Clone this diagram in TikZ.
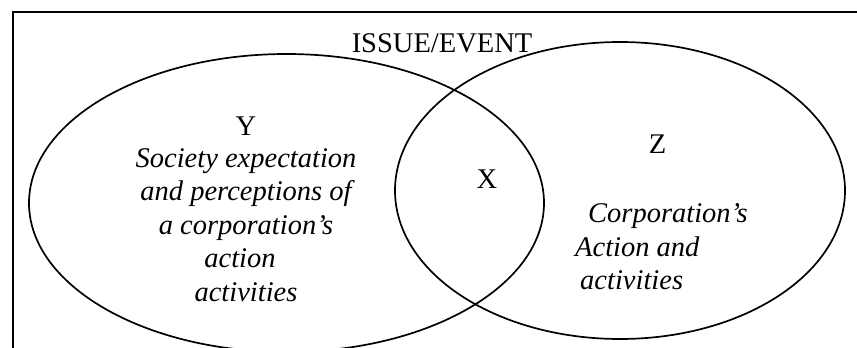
\documentclass[tikz,border=0pt]{standalone}
\usepackage{fontspec}
\setmainfont{Liberation Serif}
\begin{document}
\begin{tikzpicture}[x=1pt,y=-1pt,
  frameline/.style={line width=2pt},
  setline/.style={line width=1.7pt},
  lbl/.style={font=\fontsize{28.5}{34}\selectfont, inner sep=0pt, anchor=base},
  itl/.style={font=\fontsize{28.5}{34}\selectfont\itshape, inner sep=0pt, anchor=base},
  itlw/.style={itl, anchor=base west}]
\useasboundingbox (0,0) rectangle (857,348);
\begin{scope}
\clip (0,0) rectangle (857,348);
% frame
\draw[frameline] (13,349) -- (13,12) -- (858,12);
% sets
\draw[setline] (286.5,203) ellipse [x radius=257.5pt, y radius=149pt];
\draw[setline] (620,190.5) ellipse [x radius=225pt, y radius=148.5pt];
\end{scope}
% title
\node[lbl] (title) at (442,52) {ISSUE/EVENT};
% left set
\node[lbl] (y) at (246,135) {Y};
\node[itl] (y1) at (246,167) {Society expectation};
\node[itl] (y2) at (246,200.5) {and perceptions of};
\node[itl] (y3) at (246,234) {a corporation’s};
\node[itl] (y4) at (240,267.5) {action};
\node[itl] (y5) at (246,301) {activities};
% intersection
\node[lbl] (x) at (487,188) {X};
% right set
\node[lbl] (z) at (657.5,153) {Z};
\node[itlw] (z1) at (588,222) {Corporation’s};
\node[itlw] (z2) at (575,256.5) {Action and};
\node[itlw] (z3) at (580,289) {activities};
\end{tikzpicture}
\end{document}
